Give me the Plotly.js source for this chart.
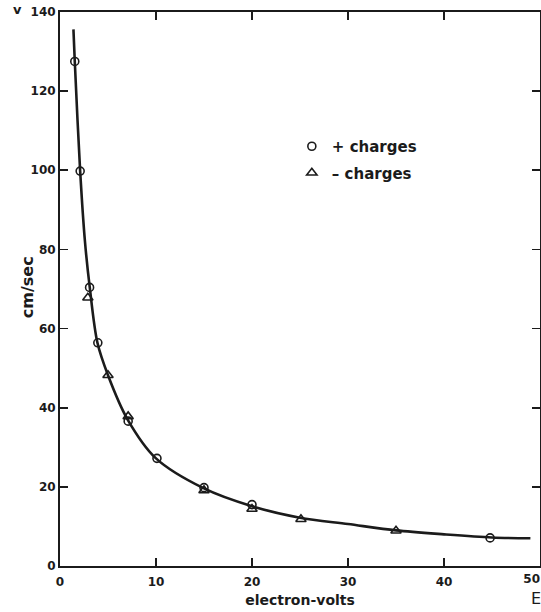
<!DOCTYPE html>
<html>
<head>
<meta charset="utf-8">
<script src="https://cdn.plot.ly/plotly-3.0.1.min.js"></script>
<style>
  html, body { margin: 0; padding: 0; background: #ffffff; overflow: hidden; }
  #chart { width: 541px; height: 612px; }
</style>
</head>
<body>
<div id="chart"></div>
<script>
// ---- data (E in electron-volts, v in cm/sec) ----
var curveE = [1.4, 1.54, 2.1, 2.6, 3.1, 3.9, 5.0, 7.0, 10, 15, 20, 25, 30, 35, 40, 45, 49];
var curveV = [135.6, 127.5, 99.8, 82, 70.4, 56.4, 48.2, 37.2, 27.2, 19.6, 15.1, 12.2, 10.6, 9.0, 8.0, 7.2, 7.0];

var plusE = [1.54, 2.1, 3.08, 3.94, 7.1, 10.1, 15.0, 20.0, 44.8];
var plusV = [127.5, 99.8, 70.4, 56.4, 36.6, 27.2, 19.8, 15.5, 7.1];

var minusE = [2.9, 5.0, 7.1, 15.0, 20.0, 25.1, 35.0];
var minusV = [67.8, 48.2, 37.8, 19.1, 14.4, 11.8, 8.9];

var xTicks = [0, 10, 20, 30, 40];
var xEndTick = [50];
var yTicks = [0, 20, 40, 60, 80, 100, 120, 140];

var seriesNames = ['+ charges', '\u2013 charges'];
var xTitle = 'electron-volts';
var yTitle = 'cm/sec';

var ink = '#1b1b1b';
var fontFam = '"DejaVu Sans", Lato, sans-serif';

var traces = [
  {
    x: curveE, y: curveV, type: 'scatter', mode: 'lines',
    line: { color: ink, width: 2.6, shape: 'spline', smoothing: 0.9 },
    showlegend: false, hoverinfo: 'skip'
  },
  {
    x: plusE, y: plusV, type: 'scatter', mode: 'markers', name: seriesNames[0],
    marker: { symbol: 'circle-open', size: 8, color: ink, line: { width: 1.6, color: ink } },
    legendgroup: 'a'
  },
  {
    x: minusE, y: minusV, type: 'scatter', mode: 'markers', name: seriesNames[1],
    marker: { symbol: 'triangle-up-open', size: 9, color: ink, line: { width: 1.6, color: ink } },
    legendgroup: 'b'
  },
  // empty helper so the end-label axis (x2) gets drawn
  {
    x: xEndTick, y: [null], xaxis: 'x2', yaxis: 'y', type: 'scatter', mode: 'markers',
    showlegend: false, hoverinfo: 'skip', marker: { opacity: 0 }
  }
];

var tickFont = { family: fontFam, size: 12, color: ink, weight: 'bold' };

var axisCommon = {
  showgrid: false, zeroline: false,
  showline: true, linecolor: ink, linewidth: 2, mirror: 'ticks',
  ticks: 'inside', ticklen: 8, tickwidth: 1.6, tickcolor: ink,
  tickfont: tickFont
};

var layout = {
  width: 541, height: 612,
  margin: { l: 60, r: 1, t: 12, b: 46 },
  paper_bgcolor: '#ffffff', plot_bgcolor: '#ffffff',
  font: { family: fontFam, color: ink },
  showlegend: true,
  legend: {
    x: 0.483, y: 0.787, xanchor: 'left', yanchor: 'top',
    bgcolor: 'rgba(0,0,0,0)', borderwidth: 0,
    font: { family: fontFam, size: 15, color: ink, weight: 'bold' },
    traceorder: 'grouped', tracegroupgap: 4
  },
  xaxis: Object.assign({}, axisCommon, {
    range: [0, 50], tickvals: xTicks, ticktext: xTicks.map(String),
    ticklabelstandoff: 4,
    title: { text: xTitle, font: { family: fontFam, size: 14, color: ink, weight: 'bold' }, standoff: 7 }
  }),
  // end label "50" sits at the right frame; drawn right-aligned so it stays inside the page
  xaxis2: {
    overlaying: 'x', anchor: 'y', side: 'bottom', range: [0, 50],
    showgrid: false, zeroline: false, showline: false, ticks: '',
    tickvals: xEndTick, ticktext: xEndTick.map(String),
    ticklabelposition: 'outside left', ticklabeloverflow: 'allow', ticklabelstandoff: 4,
    tickfont: tickFont
  },
  yaxis: Object.assign({}, axisCommon, {
    range: [0, 140], tickvals: yTicks, ticktext: yTicks.map(String)
  }),
  annotations: [
    { text: yTitle, xref: 'paper', yref: 'paper', x: -0.069, y: 0.503, xanchor: 'center', yanchor: 'middle',
      textangle: -90, showarrow: false, font: { family: fontFam, size: 16, color: ink, weight: 'bold' } },
    { text: 'v', xref: 'paper', yref: 'paper', x: -0.089, y: 1.0054, xanchor: 'center', yanchor: 'middle',
      showarrow: false, font: { family: fontFam, size: 13, color: ink, weight: 'bold' } },
    { text: 'E', xref: 'paper', yref: 'paper', x: 0.977, y: -0.058, xanchor: 'left', yanchor: 'middle',
      showarrow: false, font: { family: fontFam, size: 16, color: ink } }
  ]
};

Plotly.newPlot('chart', traces, layout, { displayModeBar: false, staticPlot: true });
</script>
</body>
</html>
